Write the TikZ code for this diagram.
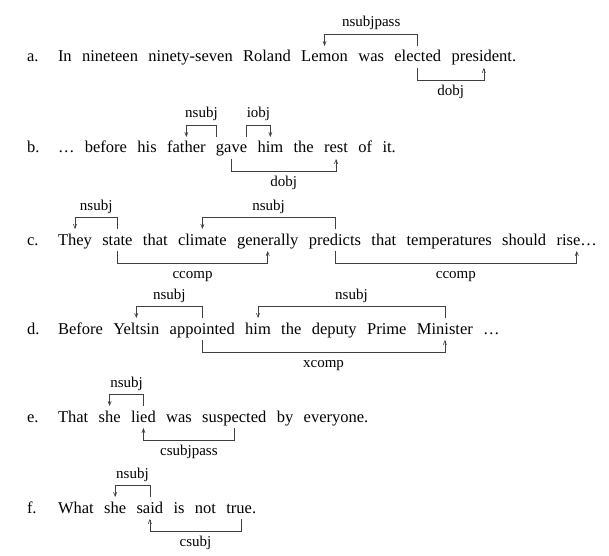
\documentclass[tikz,border=0pt]{standalone}
\usepackage{fontspec}
\setmainfont{Liberation Serif}
\usetikzlibrary{positioning,arrows.meta}
\tikzset{
  wd/.style={inner sep=0pt,outer sep=0pt,font=\fontsize{16.5}{18}\selectfont},
  first/.style={wd,anchor=base west},
  nx/.style={wd,base right=10.4pt of #1},
  rowlbl/.style={wd,anchor=base west},
  lbl/.style={inner sep=0pt,outer sep=0pt,font=\fontsize{15}{17}\selectfont,anchor=base},
  arc/.style={draw=black!75,line width=0.6pt,-{Straight Barb[length=4pt,width=3.2pt]}},
}
\newcommand\DepUp[4][0pt]{\draw[arc] ([xshift=#1,yshift=16pt]#2.base) -- ([xshift=#1,yshift=28pt]#2.base) -| node[lbl,pos=0.25,yshift=7pt]{#4} ([yshift=16pt]#3.base);}
\newcommand\DepDown[4][0pt]{\draw[arc] ([xshift=#1,yshift=-6pt]#2.base) -- ([xshift=#1,yshift=-18pt]#2.base) -| node[lbl,pos=0.25,yshift=-15.5pt]{#4} ([yshift=-6pt]#3.base);}
\begin{document}
\begin{tikzpicture}[x=1pt,y=1pt]
\useasboundingbox (0,0) rectangle (609,555);
% row a
\node[rowlbl] (la) at (27,493) {a.};
\node[first] (a1) at (58,493) {In};
\node[nx=a1] (a2) {nineteen};
\node[nx=a2] (a3) {ninety-seven};
\node[nx=a3] (a4) {Roland};
\node[nx=a4] (a5) {Lemon};
\node[nx=a5] (a6) {was};
\node[nx=a6] (a7) {elected};
\node[nx=a7] (a8) {president.};
\DepUp{a7}{a5}{nsubjpass}
\DepDown{a7}{a8}{dobj}
% row b
\node[rowlbl] (lb) at (27,402) {b.};
\node[first] (b1) at (58,402) {\ldots};
\node[nx=b1] (b2) {before};
\node[nx=b2] (b3) {his};
\node[nx=b3] (b4) {father};
\node[nx=b4] (b5) {gave};
\node[nx=b5] (b6) {him};
\node[nx=b6] (b7) {the};
\node[nx=b7] (b8) {rest};
\node[nx=b8] (b9) {of};
\node[nx=b9] (b10) {it.};
\DepUp[-15pt]{b5}{b4}{nsubj}
\DepUp[15pt]{b5}{b6}{iobj}
\DepDown{b5}{b8}{dobj}
% row c
\node[rowlbl] (lc) at (27,310) {c.};
\node[first] (c1) at (58,310) {They};
\node[nx=c1] (c2) {state};
\node[nx=c2] (c3) {that};
\node[nx=c3] (c4) {climate};
\node[nx=c4] (c5) {generally};
\node[nx=c5] (c6) {predicts};
\node[nx=c6] (c7) {that};
\node[nx=c7] (c8) {temperatures};
\node[nx=c8] (c9) {should};
\node[nx=c9] (c10) {rise\ldots};
\DepUp{c2}{c1}{nsubj}
\DepUp{c6}{c4}{nsubj}
\DepDown{c2}{c5}{ccomp}
\DepDown{c6}{c10}{ccomp}
% row d
\node[rowlbl] (ld) at (27,221) {d.};
\node[first] (d1) at (58,221) {Before};
\node[nx=d1] (d2) {Yeltsin};
\node[nx=d2] (d3) {appointed};
\node[nx=d3] (d4) {him};
\node[nx=d4] (d5) {the};
\node[nx=d5] (d6) {deputy};
\node[nx=d6] (d7) {Prime};
\node[nx=d7] (d8) {Minister};
\node[nx=d8] (d9) {\ldots};
\DepUp{d3}{d2}{nsubj}
\DepUp{d8}{d4}{nsubj}
\DepDown{d3}{d8}{xcomp}
% row e
\node[rowlbl] (le) at (27,133) {e.};
\node[first] (e1) at (58,133) {That};
\node[nx=e1] (e2) {she};
\node[nx=e2] (e3) {lied};
\node[nx=e3] (e4) {was};
\node[nx=e4] (e5) {suspected};
\node[nx=e5] (e6) {by};
\node[nx=e6] (e7) {everyone.};
\DepUp{e3}{e2}{nsubj}
\DepDown{e5}{e3}{csubjpass}
% row f
\node[rowlbl] (lf) at (27,42) {f.};
\node[first] (f1) at (58,42) {What};
\node[nx=f1] (f2) {she};
\node[nx=f2] (f3) {said};
\node[nx=f3] (f4) {is};
\node[nx=f4] (f5) {not};
\node[nx=f5] (f6) {true.};
\DepUp{f3}{f2}{nsubj}
\DepDown{f6}{f3}{csubj}
\end{tikzpicture}
\end{document}
